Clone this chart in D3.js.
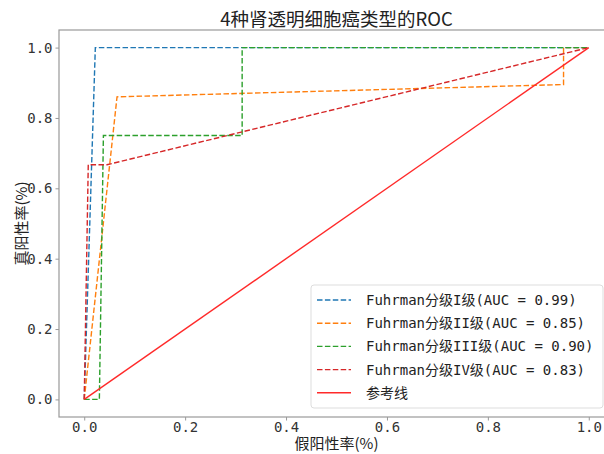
<!DOCTYPE html>
<html>
<head>
<meta charset="utf-8">
<script src="https://cdn.jsdelivr.net/npm/d3@7"></script>
<style>
    body { margin: 0; background: #fff; }
    svg text { fill: #222; }
</style>
</head>
<body>
<div id="chart_parent"></div>
<script>
// ROC points, one list per class
const fprI = [0, 0.022, 1];
const tprI = [0, 1, 1];
const fprII = [0, 0.065, 0.95, 0.95, 1];
const tprII = [0, 0.86, 0.895, 1, 1];
const fprIII = [0, 0.03, 0.038, 0.313, 0.313, 1];
const tprIII = [0, 0, 0.75, 0.75, 1, 1];
const fprIV = [0, 0.008, 0.045, 1];
const tprIV = [0, 0.667, 0.667, 1];
const refX = [0, 1];
const refY = [0, 1];

const seriesNames = [
    'Fuhrman分级I级(AUC = 0.99)',
    'Fuhrman分级II级(AUC = 0.85)',
    'Fuhrman分级III级(AUC = 0.90)',
    'Fuhrman分级IV级(AUC = 0.83)',
    '参考线',
];
const tickValues = [0, 0.2, 0.4, 0.6, 0.8, 1.0];
const chartTitle = '4种肾透明细胞癌类型的ROC';
const xLabel = '假阳性率(%)';
const yLabel = '真阳性率(%)';

const chartConfig = {
    width: 604,
    height: 454,
    plot: { left: 59, right: 614, top: 30, bottom: 417 },
    colors: ['#1f77b4', '#ff7f0e', '#2ca02c', '#d62728', '#ff2a2a'],
    monoFont: '"DejaVu Sans Mono", "Noto Sans CJK SC", monospace',
    cjkFont: '"Noto Sans CJK SC", "DejaVu Sans", sans-serif',
};

function zip(xs, ys) {
    return xs.map((x, i) => [x, ys[i]]);
}

const series = [
    zip(fprI, tprI),
    zip(fprII, tprII),
    zip(fprIII, tprIII),
    zip(fprIV, tprIV),
    zip(refX, refY),
];

function drawChart(config) {
    const p = config.plot;
    const svg = d3.select('#chart_parent').append('svg')
        .attr('width', config.width)
        .attr('height', config.height);

    const xScale = d3.scaleLinear().domain([-0.05, 1.05]).range([p.left, p.right]);
    const yScale = d3.scaleLinear().domain([-0.05, 1.05]).range([p.bottom, p.top]);

    // axes
    const xAxis = d3.axisBottom(xScale).tickValues(tickValues).tickFormat(d3.format('.1f')).tickSizeOuter(0).tickSize(3.5).tickPadding(2);
    const yAxis = d3.axisLeft(yScale).tickValues(tickValues).tickFormat(d3.format('.1f')).tickSizeOuter(0).tickSize(3.5).tickPadding(3);

    const gx = svg.append('g').attr('transform', `translate(0,${p.bottom})`).call(xAxis);
    const gy = svg.append('g').attr('transform', `translate(${p.left},0)`).call(yAxis);
    [gx, gy].forEach(g => {
        g.select('.domain').remove();
        g.selectAll('line').attr('stroke', '#999');
        g.selectAll('text')
            .style('font-family', config.monoFont)
            .style('font-size', '14px')
            .style('fill', '#333');
    });

    // spines
    svg.append('rect')
        .attr('x', p.left).attr('y', p.top)
        .attr('width', p.right - p.left).attr('height', p.bottom - p.top)
        .attr('fill', 'none').attr('stroke', '#999').attr('stroke-width', 1.2);

    const line = d3.line().x(d => xScale(d[0])).y(d => yScale(d[1]));

    series.forEach((s, i) => {
        svg.append('path')
            .datum(s)
            .attr('d', line)
            .attr('fill', 'none')
            .attr('stroke', config.colors[i])
            .attr('stroke-width', 1.4)
            .attr('stroke-dasharray', i < 4 ? '5.5,2.4' : null);
    });

    // title and labels
    svg.append('text')
        .attr('x', (p.left + p.right) / 2).attr('y', 26)
        .attr('text-anchor', 'middle')
        .style('font-family', config.cjkFont)
        .style('font-size', '18.5px')
        .text(chartTitle);

    svg.append('text')
        .attr('x', (p.left + p.right) / 2).attr('y', 449)
        .attr('text-anchor', 'middle')
        .style('font-family', config.cjkFont)
        .style('font-size', '15px')
        .text(xLabel);

    svg.append('text')
        .attr('transform', `translate(27,${(p.top + p.bottom) / 2}) rotate(-90)`)
        .attr('text-anchor', 'middle')
        .style('font-family', config.cjkFont)
        .style('font-size', '15px')
        .text(yLabel);

    // legend
    const legend = svg.append('g').attr('transform', 'translate(311,285)');
    legend.append('rect')
        .attr('width', 292).attr('height', 123)
        .attr('rx', 3)
        .attr('fill', '#fff').attr('fill-opacity', 0.85)
        .attr('stroke', '#ddd');

    const rows = legend.selectAll('.row')
        .data(seriesNames)
        .enter()
        .append('g')
        .attr('class', 'row')
        .attr('transform', (d, i) => `translate(0,${15 + i * 23.2})`);

    rows.append('line')
        .attr('x1', 6).attr('x2', 40)
        .attr('stroke', (d, i) => config.colors[i])
        .attr('stroke-width', 1.4)
        .attr('stroke-dasharray', (d, i) => (i < 4 ? '5.5,2.4' : null));

    rows.append('text')
        .attr('x', 55).attr('y', 5)
        .style('font-family', config.monoFont)
        .style('font-size', '14px')
        .text(d => d);
}

drawChart(chartConfig);
</script>
</body>
</html>
